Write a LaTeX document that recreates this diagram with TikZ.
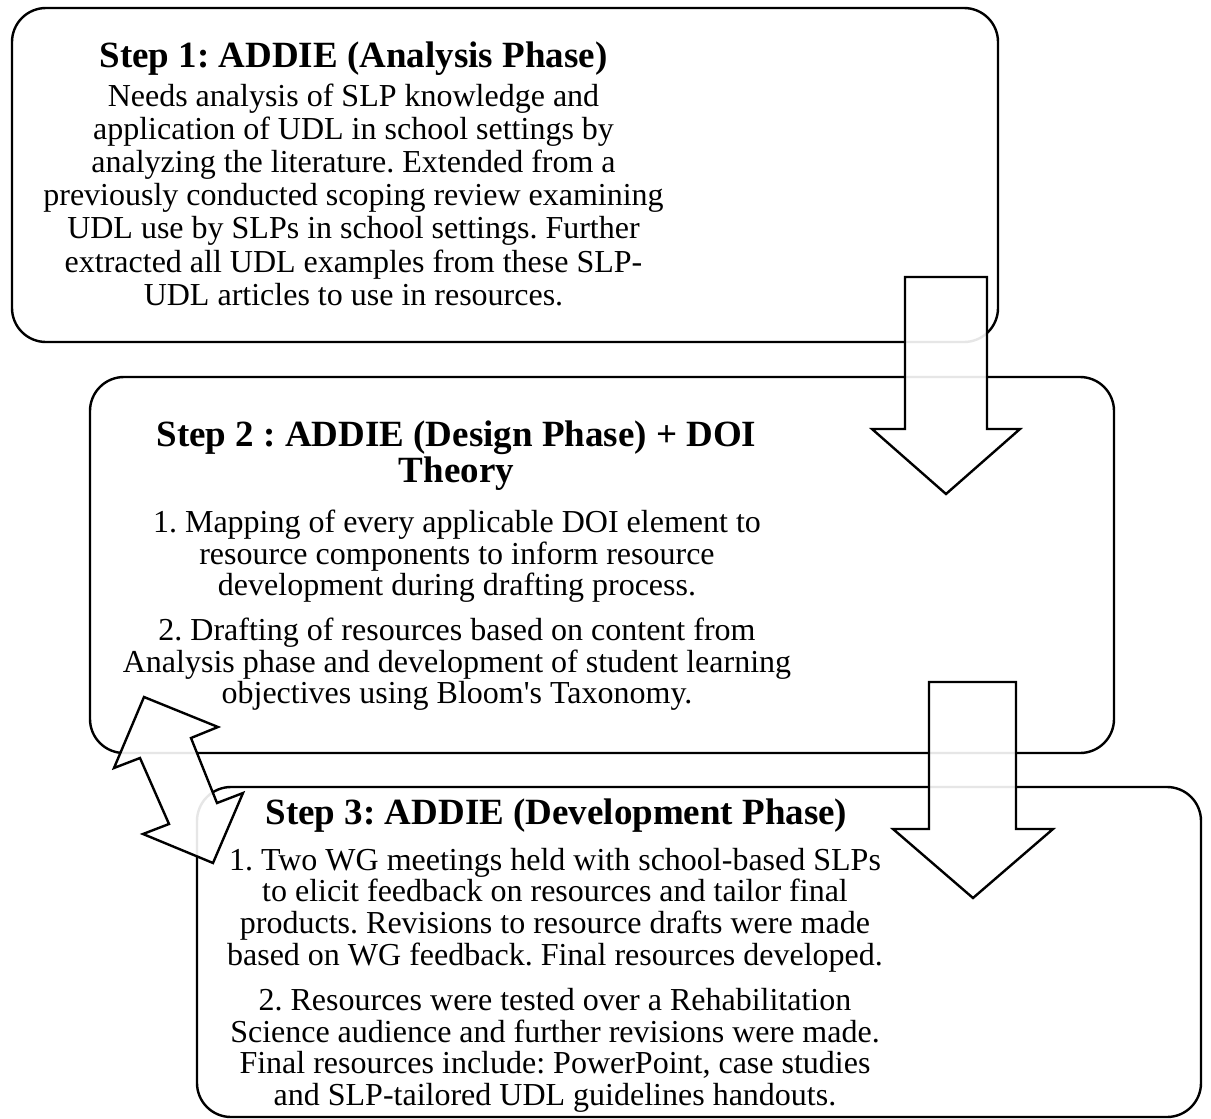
\documentclass[tikz,border=0pt]{standalone}
\usepackage{fontspec}
\setmainfont{Liberation Serif}
\frenchspacing

\tikzset{
  stepbox/.style={line width=1.2pt, rounded corners=17pt},
  blockarrow/.style={line width=1.2pt, fill=white, fill opacity=0.9, line join=miter},
  steptitle/.style={anchor=base, align=center, font=\fontsize{18.5}{18}\selectfont\bfseries},
  steptext/.style={anchor=base, align=center, font=\fontsize{16}{#1}\selectfont},
  steptext/.default=15.85,
}

\begin{document}
\begin{tikzpicture}[x=0.5pt,y=-0.5pt]

  \useasboundingbox (0,0) rectangle (1211,1119);

  \draw[stepbox] (12,8) rectangle (998,342);
  \draw[stepbox] (90,377) rectangle (1114,753);
  \draw[stepbox] (197,787) rectangle (1201,1117);

  % base = baseline of the last line
  \node[steptitle] (title1) at (353.5,67) {Step 1: ADDIE (Analysis Phase)};
  \node[steptext=16.6] (text1) at (353.5,305.2) {Needs analysis of SLP knowledge and\\
    application of UDL in school settings by\\analyzing the literature. Extended from a\\
    previously conducted scoping review examining\\UDL use by SLPs in school settings. Further\\
    extracted all UDL examples from these SLP-\\UDL articles to use in resources.};

  \node[steptitle] (title2) at (456.5,482.5) {Step 2 : ADDIE (Design Phase) + DOI\\Theory};
  \node[steptext=15.75] (text2) at (457,703.5) {1. Mapping of every applicable DOI element to\\
    resource components to inform resource\\development during drafting process.\\[6.75pt]
    2. Drafting of resources based on content from\\
    Analysis phase and development of student learning\\
    objectives using Bloom\textquotesingle s Taxonomy.};

  \node[steptitle] (title3) at (556.5,824.5) {Step 3: ADDIE (Development Phase)};
  \node[steptext] (text3) at (555,1105.4) {1. Two WG meetings held with school-based SLPs\\
    to elicit feedback on resources and tailor final\\
    products. Revisions to resource drafts were made\\
    based on WG feedback. Final resources developed.\\[6.75pt]
    2. Resources were tested over a Rehabilitation\\
    Science audience and further revisions were made.\\
    Final resources include: PowerPoint, case studies\\
    and SLP-tailored UDL guidelines handouts.};

  % block arrows between the steps
  \draw[blockarrow] (905,277) -- (987,277) -- (987,429) -- (1020,429) -- (946,494)
    -- (872,429) -- (905,429) -- cycle;
  \draw[blockarrow] (929,682) -- (1016,682) -- (1016,829) -- (1053,829) -- (973,898)
    -- (893,829) -- (929,829) -- cycle;
  \draw[blockarrow] (144,697) -- (218,727) -- (191,738) -- (217,803) -- (243,793)
    -- (213,863) -- (143,834) -- (169,824) -- (140,758) -- (114,768) -- cycle;

\end{tikzpicture}
\end{document}
